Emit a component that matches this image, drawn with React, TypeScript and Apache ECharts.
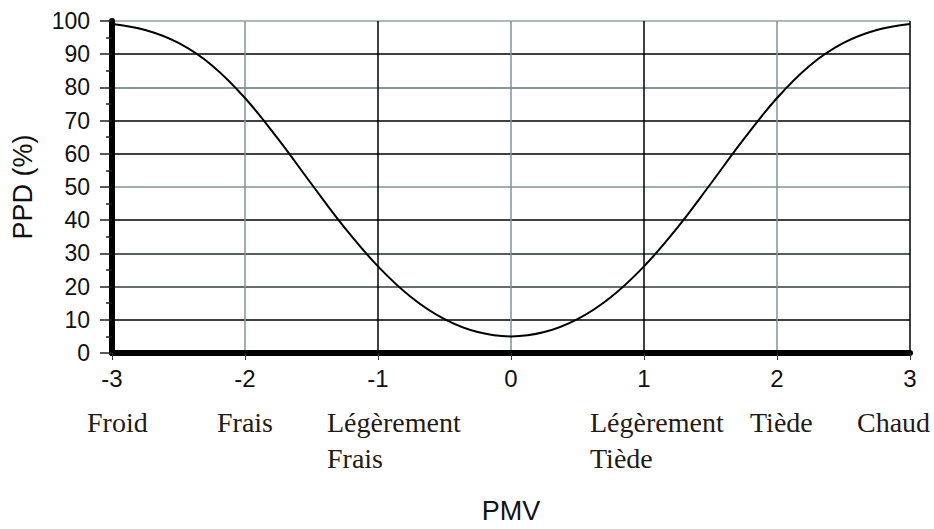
import React, { useEffect, useRef } from "react";
import * as echarts from "echarts";

const pmv = [-3, -2.75, -2.5, -2.25, -2, -1.75, -1.5, -1.25, -1, -0.75, -0.5, -0.25, 0, 0.25, 0.5, 0.75, 1, 1.25, 1.5, 1.75, 2, 2.25, 2.5, 2.75, 3];
const ppd = [99.1, 97.3, 93.4, 86.7, 76.8, 64.4, 50.9, 37.7, 26.1, 16.8, 10.2, 6.3, 5.0, 6.3, 10.2, 16.8, 26.1, 37.7, 50.9, 64.4, 76.8, 86.7, 93.4, 97.3, 99.1];

const sensationValues = [-3, -2, -1, 1, 2, 3];
const sensationLabels = ["Froid", "Frais", "Légèrement\nFrais", "Légèrement\nTiède", "Tiède", "Chaud"];

// layout constants (pixel offsets of each label's left edge from its tick)
const labelOffsets = [-25, -28, -51, -54, -27, -53];

const SANS = "'Liberation Sans', Arial, sans-serif";
const SERIF = "'Liberation Serif', 'Times New Roman', serif";

export default function App() {
  const ref = useRef<HTMLDivElement>(null);
  useEffect(() => {
    if (!ref.current) return;
    const chart = echarts.init(ref.current, null, { renderer: "svg" });
    const option: any = {
      animation: false,
      backgroundColor: "#ffffff",
      grid: { left: 112, right: 24, top: 21, bottom: 174 },
      xAxis: {
        type: "value",
        min: -3,
        max: 3,
        interval: 1,
        name: "PMV",
        nameLocation: "middle",
        nameGap: 144,
        nameTextStyle: { fontFamily: SANS, fontSize: 27, color: "#111" },
        axisLine: { show: true, onZero: false, lineStyle: { color: "#000", width: 6 } },
        axisTick: { show: true, length: 7, lineStyle: { color: "#333", width: 1 } },
        axisLabel: { margin: 13, fontFamily: SANS, fontSize: 24, color: "#111" },
        splitLine: {
          show: true,
          lineStyle: { color: ["#000", "#7f9595", "#000", "#7f9595", "#000", "#7f9595", "#000"], width: 1.5 },
        },
      },
      yAxis: {
        type: "value",
        min: 0,
        max: 100,
        interval: 10,
        name: "PPD (%)",
        nameLocation: "middle",
        nameGap: 76,
        nameTextStyle: { fontFamily: SANS, fontSize: 27, color: "#111" },
        axisLine: { show: true, onZero: false, lineStyle: { color: "#000", width: 6 } },
        axisTick: { show: true, length: 12, lineStyle: { color: "#222", width: 1.5 } },
        minorTick: { show: true, splitNumber: 2, length: 6, lineStyle: { color: "#222", width: 1.5 } },
        axisLabel: { margin: 22, fontFamily: SANS, fontSize: 23, color: "#111" },
        splitLine: {
          show: true,
          lineStyle: {
            color: ["#000", "#000", "#2f3d3d", "#1e2a2a", "#000", "#7f9595", "#000", "#000", "#5f7575", "#000", "#8fa3a3"],
            width: 1.5,
          },
        },
      },
      series: [
        {
          type: "line",
          data: pmv.map((x, i) => [x, ppd[i]]),
          smooth: 0.4,
          showSymbol: false,
          lineStyle: { color: "#000", width: 2 },
          z: 5,
        },
      ],
    };
    chart.setOption(option);
    const graphics = sensationValues.map((v, i) => {
      const px = chart.convertToPixel({ xAxisIndex: 0 }, v) as number;
      return {
        type: "text",
        x: px + labelOffsets[i],
        y: 404,
        style: {
          text: sensationLabels[i],
          fontFamily: SERIF,
          fontSize: 28,
          lineHeight: 36,
          fill: "#1f1a16",
          align: "left",
          verticalAlign: "top",
        },
      };
    });
    chart.setOption({ graphic: graphics });
    return () => chart.dispose();
  }, []);
  return (
    <div
      ref={ref}
      style={{ position: "fixed", left: 0, top: 0, width: 934, height: 529, background: "#fff" }}
    />
  );
}
